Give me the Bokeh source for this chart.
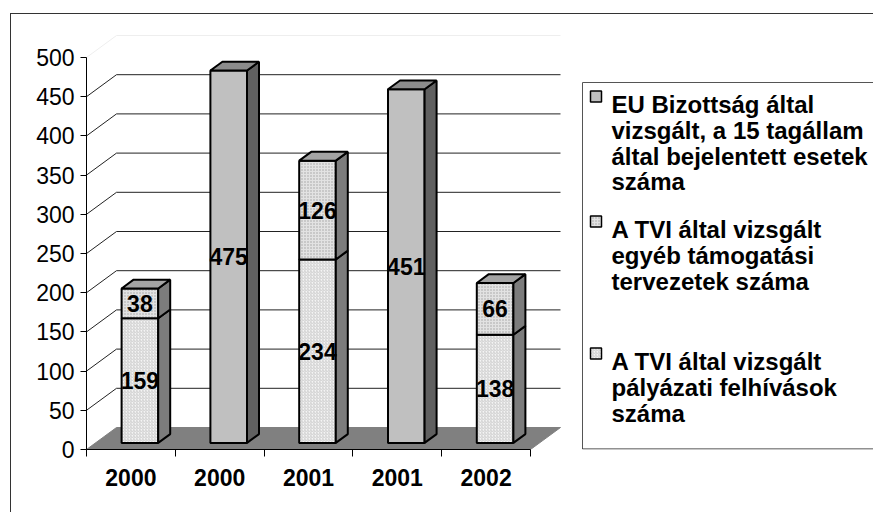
from bokeh.plotting import figure
from bokeh.models import LinearAxis, FixedTicker, Range1d
from bokeh.core.properties import value
from bokeh.embed import file_html
from bokeh.resources import INLINE

# ---------------- data ----------------
categories = ["2000", "2000", "2001", "2001", "2002"]
palyazati = [159, 0, 234, 0, 138]      # A TVI által vizsgált pályázati felhívások száma (bottom)
egyeb = [38, 0, 126, 0, 66]            # A TVI által vizsgált egyéb támogatási tervezetek száma (top)
eu_bizottsag = [0, 475, 0, 451, 0]     # EU Bizottság által vizsgált ... esetek száma
y_ticks = [0, 50, 100, 150, 200, 250, 300, 350, 400, 450, 500]
legend_lines = [
    ["EU Bizottság által", "vizsgált, a 15 tagállam", "által bejelentett esetek", "száma"],
    ["A TVI által vizsgált", "egyéb támogatási", "tervezetek száma"],
    ["A TVI által vizsgált", "pályázati felhívások", "száma"],
]

# ---------------- geometry (canvas pixels) ----------------
W, H = 873, 512
AX_X, AX_Y0 = 86, 449          # frame left edge (value axis) and bottom edge (category axis)
PX_PER_CAT = 88.8
PX_PER_UNIT = 0.784
WALL_DX, WALL_DY = 30, 22
F0, F1 = 0.3, 0.7
BAR_W = 36.6
FONT = "Liberation Sans"
FS = "23px"
FS_LEG = "24px"
BORDER = "#333333"


def X(px):
    return (px - AX_X) / PX_PER_CAT


def Y(py):
    return (AX_Y0 - py) / PX_PER_UNIT


def DX(px):
    return px / PX_PER_CAT


def DY(px):
    return px / PX_PER_UNIT


p = figure(width=W, height=H,
           x_range=Range1d(0, X(W)), y_range=Range1d(0, Y(0)),
           min_border_left=AX_X, min_border_bottom=H - AX_Y0, min_border_top=0, min_border_right=0,
           x_axis_location=None, y_axis_location=None,
           output_backend="svg", toolbar_location=None)
p.grid.visible = False
p.outline_line_color = None
# transparent canvas so that the chart's outer border (a CSS background on the host) shows
p.background_fill_color = None
p.border_fill_color = None
p.styles = {
    "background-color": "white",
    "background-image": f"linear-gradient({BORDER}, {BORDER}), linear-gradient({BORDER}, {BORDER})",
    "background-size": "1px 100%, 100% 1px",
    "background-position": "10px 13px, 10px 13px",
    "background-repeat": "no-repeat",
}

n = len(categories)
wdx, wdy = DX(WALL_DX), DY(WALL_DY)

# top edge of the outer border (inside the frame part)
p.line([0, X(W + 40)], [Y(13), Y(13)], line_color=BORDER, line_width=1)

# walls: gridlines on back wall and diagonals on the left wall
for t in y_ticks[1:]:
    col = "#222222" if t < 500 else "#eeeeee"
    p.line([wdx, n + wdx], [t + wdy, t + wdy], line_color=col, line_width=1)
    p.line([0, wdx], [t, t + wdy], line_color=col, line_width=1)

# floor
p.patch([0, wdx, n + wdx, n], [0, wdy, wdy, 0], fill_color="#808080", line_color="#808080")

# ---------------- bars ----------------
styles = {
    "pal": dict(front=dict(fill_color="#f4f4f4", hatch_pattern="right_diagonal_line", hatch_color="#bdbdbd",
                           hatch_scale=3, hatch_weight=0.7),
                side="#7c7c7c", top="#a4a4a4"),
    "egy": dict(front=dict(fill_color="#e2e2e2", hatch_pattern="dot", hatch_color="#a0a0a0",
                           hatch_scale=3, hatch_weight=1),
                side="#7c7c7c", top="#a4a4a4"),
    "eu": dict(front=dict(fill_color="#c0c0c0"), side="#606060", top="#8c8c8c"),
}
series = [("pal", palyazati), ("egy", egyeb), ("eu", eu_bizottsag)]

sx0, sy0 = DX(F0 * WALL_DX), DY(F0 * WALL_DY)
ddx, ddy = DX((F1 - F0) * WALL_DX), DY((F1 - F0) * WALL_DY)
bw = DX(BAR_W)

labels_x, labels_y, labels_t = [], [], []
for i in range(n):
    left = i + 0.5 - bw / 2 + sx0
    right = left + bw
    base = 0
    segs = []
    for key, vals in series:
        v = vals[i]
        if v > 0:
            segs.append((key, base, base + v, v))
            base += v
    for k, (key, b, t, v) in enumerate(segs):
        st = styles[key]
        bb, tt = b + sy0, t + sy0
        p.quad(left=[left], right=[right], bottom=[bb], top=[tt], line_color="black", line_width=2,
               **st["front"])
        p.patch([right, right + ddx, right + ddx, right], [bb, bb + ddy, tt + ddy, tt],
                fill_color=st["side"], line_color="black", line_width=2)
        if k == len(segs) - 1:
            p.patch([left, left + ddx, right + ddx, right], [tt, tt + ddy, tt + ddy, tt],
                    fill_color=st["top"], line_color="black", line_width=2)
        labels_x.append((left + right) / 2)
        labels_y.append((bb + tt) / 2)
        labels_t.append(str(v))

p.text(labels_x, labels_y, text=labels_t, text_font=value(FONT), text_font_size=FS,
       text_font_style="bold", text_align="center", text_baseline="middle", text_color="black")

# ---------------- axes ----------------
yaxis = LinearAxis(bounds=(0, 500), ticker=FixedTicker(ticks=y_ticks, minor_ticks=[]),
                   major_tick_out=6, major_tick_in=0, minor_tick_out=0, minor_tick_in=0,
                   axis_line_color="black", major_tick_line_color="black",
                   major_label_text_font=FONT, major_label_text_font_size=FS,
                   major_label_text_color="black", major_label_standoff=6)
p.add_layout(yaxis, "left")

centers = [i + 0.5 for i in range(n)]
xaxis = LinearAxis(bounds=(0, n),
                   ticker=FixedTicker(ticks=centers, minor_ticks=list(range(n + 1))),
                   major_label_overrides={c: lab for c, lab in zip(centers, categories)},
                   major_tick_out=0, major_tick_in=0, minor_tick_out=7, minor_tick_in=0,
                   axis_line_color="black", minor_tick_line_color="black",
                   major_label_text_font=FONT, major_label_text_font_size=FS,
                   major_label_text_font_style="bold", major_label_text_color="black",
                   major_label_standoff=12)
p.add_layout(xaxis, "below")

# ---------------- legend (drawn) ----------------
LG_L, LG_T, LG_B = 582, 82, 448.5
p.line([X(LG_L), X(LG_L)], [Y(LG_T), Y(LG_B)], line_color="#555555", line_width=1)
p.line([X(LG_L), X(W + 40)], [Y(LG_T), Y(LG_T)], line_color="#555555", line_width=1)
p.line([X(LG_L), X(W + 40)], [Y(LG_B), Y(LG_B)], line_color="#222222", line_width=1)

baselines = [[104, 130, 156, 181], [229, 255, 281], [361, 387, 413]]
leg_styles = [styles["eu"], styles["egy"], styles["pal"]]
for lines, bls, st in zip(legend_lines, baselines, leg_styles):
    cy = bls[0] - 8
    p.quad(left=[X(590)], right=[X(601)], top=[Y(cy - 5.5)], bottom=[Y(cy + 5.5)],
           line_color="black", line_width=1.5, **st["front"])
    p.text([X(611)] * len(lines), [Y(b) for b in bls], text=lines, text_font=value(FONT),
           text_font_size=FS_LEG, text_font_style="bold", text_align="left",
           text_baseline="alphabetic", text_color="black")

open("out.html", "w").write(file_html(p, INLINE))
